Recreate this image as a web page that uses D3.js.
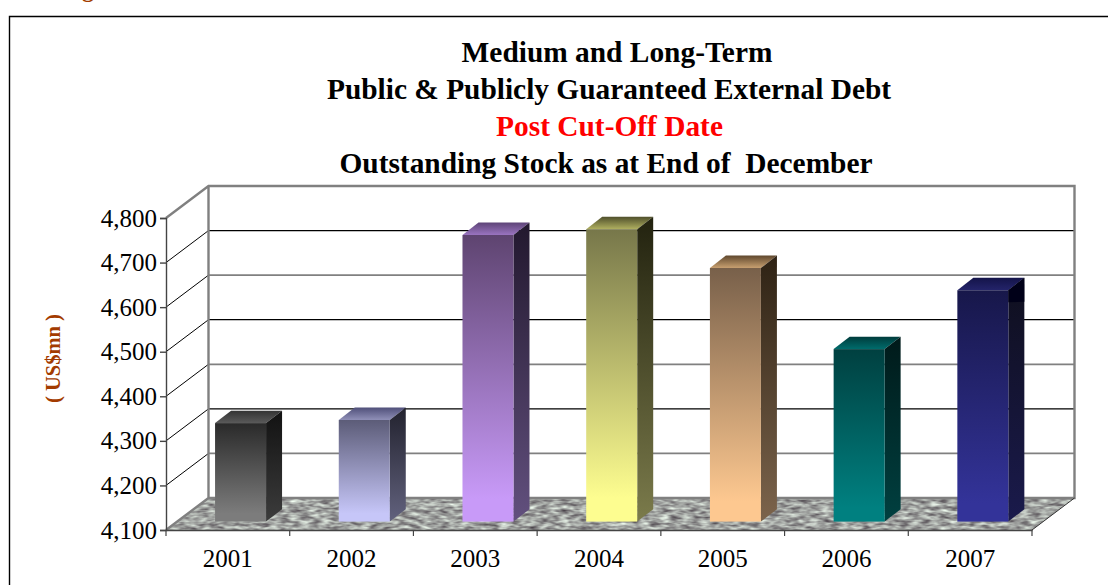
<!DOCTYPE html>
<html><head><meta charset="utf-8">
<script src="https://cdn.jsdelivr.net/npm/d3@7"></script>
<style>html,body{margin:0;padding:0;background:#fff;overflow:hidden}svg{display:block}text{font-family:"Liberation Serif",serif}</style>
</head><body><div id="c"></div>
<script>
const years = ["2001","2002","2003","2004","2005","2006","2007"];
const debt = [4321,4328,4743,4756,4669,4487,4619];
const yTicks = [4100,4200,4300,4400,4500,4600,4700,4800];
const frontTop = ["#2a2a2a","#5c5c78","#5e4470","#77774a","#78604a","#004040","#17174a"];
const frontBottom = ["#7c7c7c","#c6c6f8","#c89af8","#fdfd90","#fdc890","#008080","#333399"];
const sideTop = ["#121212","#22222e","#22182e","#22220f","#2e2214","#001a1a","#0f0f1e"];
const sideBottom = ["#3c3c3c","#62627e","#62507e","#7b7b4b","#7c644c","#004040","#1a1a4c"];
const capBack = ["#333333","#50507a","#5e4478","#50502c","#60482e","#003c3c","#14144a"];
const capFront = ["#5a5a5a","#9090b8","#9a74c0","#b0b060","#c8a070","#006c6c","#24246a"];
const titleLines = [["Medium and Long-Term","#000"],["Public & Publicly Guaranteed External Debt","#000"],["Post Cut-Off Date","#ff0000"],["Outstanding Stock as at End of  December","#000"]];
const W=1108,H=585;
const svg=d3.select("#c").append("svg").attr("width",W).attr("height",H);
const defs=svg.append("defs");
const x=d3.scaleBand().domain(years).range([166,1032]);
const y=d3.scaleLinear().domain([4100,4800]).range([530,218]);
const dx=42.5,dy=-32;           // depth of the 3-D box
const off={x:12.7,y:-8.4};      // bars stand this far into the floor
const barW=51,bdx=16,bdy=-12.4; // bar width and depth
const titleCentre=[617,609,609.5,606];

function grad(id,a,b,stop){const g=defs.append("linearGradient").attr("id",id).attr("x1",0).attr("y1",0).attr("x2",0).attr("y2",1);
 g.append("stop").attr("offset",0).attr("stop-color",a);g.append("stop").attr("offset",stop).attr("stop-color",b);}
const f=defs.append("filter").attr("id","stone").attr("x",0).attr("y",0).attr("width",1).attr("height",1).attr("color-interpolation-filters","sRGB");
f.append("feTurbulence").attr("type","fractalNoise").attr("baseFrequency","0.1 0.3").attr("numOctaves",2).attr("seed",7).attr("result","n");
f.append("feColorMatrix").attr("in","n").attr("type","matrix").attr("values","0.85 0 0 0 0.2  0.95 0 0 0 0.16  0.85 0 0 0 0.2  0 0 0 0 1").attr("result","c");
f.append("feComposite").attr("in","c").attr("in2","SourceGraphic").attr("operator","in");

// cut-off heading above the frame
svg.append("text").attr("x",82).attr("y",-3).attr("font-size",24).attr("font-weight","bold").attr("fill","#a33b00").text("g");
// frame (open on the right and bottom)
svg.append("path").attr("d",`M9.5,${H}V16.5H${W}`).attr("fill","none").attr("stroke","#000").attr("stroke-width",1.4);

// title
svg.append("g").selectAll("text").data(titleLines).join("text").attr("x",(d,i)=>titleCentre[i]).attr("y",(d,i)=>61.5+i*37.3)
 .attr("text-anchor","middle").attr("font-size",29.4).attr("font-weight","bold").attr("fill",d=>d[1]).style("white-space","pre").text(d=>d[0]);
// y title
svg.append("text").attr("transform","translate(60,358.5) rotate(-90)").attr("text-anchor","middle").attr("font-size",20.5).attr("font-weight","bold").attr("fill","#a33b00").text("( US$mn )");

// floor
const [x0,x1]=x.range();
svg.append("polygon").attr("points",[[x0,y(4100)],[x0+dx,y(4100)+dy],[x1+dx,y(4100)+dy],[x1,y(4100)]].join(" ")).attr("fill","#888").attr("filter","url(#stone)");

// walls and grid lines
const inner=yTicks.slice(1,-1);
svg.append("g").selectAll("line").data(inner).join("line").attr("x1",x0).attr("y1",d=>y(d)).attr("x2",x0+dx).attr("y2",d=>y(d)+dy).attr("stroke","#000").attr("stroke-width",1);
svg.append("g").selectAll("line").data(inner).join("line").attr("x1",x0+dx).attr("x2",x1+dx).attr("y1",d=>y(d)+dy).attr("y2",d=>y(d)+dy)
 .attr("stroke",d=>(d/100)%2===1?"#000":"#808080").attr("stroke-width",d=>(d/100)%2===1?1.2:1.8);
svg.append("path").attr("d",`M${x0},${y(4800)}L${x0+dx},${y(4800)+dy}H${x1+dx}V${y(4100)+dy}H${x0+dx}V${y(4800)+dy}M${x0},${y(4100)}L${x0+dx},${y(4100)+dy}`)
 .attr("fill","none").attr("stroke","#808080").attr("stroke-width",2.4);
svg.append("line").attr("x1",x1).attr("y1",y(4100)).attr("x2",x1+dx).attr("y2",y(4100)+dy).attr("stroke","#333").attr("stroke-width",1);

// bars
const bars=svg.append("g").selectAll("g").data(years).join("g");
bars.each(function(yr,i){
 grad("f"+i,frontTop[i],frontBottom[i],0.92);grad("s"+i,sideTop[i],sideBottom[i],1);grad("t"+i,capBack[i],capFront[i],1);
 const g=d3.select(this);
 const L=x(yr)+x.bandwidth()/2+off.x-barW/2,R=L+barW,T=y(debt[i])+off.y,B=y(4100)+off.y;
 g.append("polygon").attr("points",[[L,T],[L+bdx,T+bdy],[R+bdx,T+bdy],[R,T]].join(" ")).attr("fill",`url(#t${i})`);
 g.append("polygon").attr("points",[[R,T],[R+bdx,T+bdy],[R+bdx,B+bdy],[R,B]].join(" ")).attr("fill",`url(#s${i})`);
 g.append("rect").attr("x",L).attr("y",T).attr("width",barW).attr("height",B-T).attr("fill",`url(#f${i})`);
 if(yr==="2007") g.append("polygon").attr("points",[[R,T],[R+bdx,T+bdy],[R+bdx,T+bdy+24],[R,T+12]].join(" ")).attr("fill","#000018");
});

// axes
const ya=svg.append("g").attr("transform",`translate(${x0},0)`).call(d3.axisLeft(y).tickValues(yTicks).tickFormat(d3.format(",")).tickSize(6).tickPadding(3));
ya.selectAll("path,line").attr("stroke","#444").attr("stroke-width",1.4);
ya.selectAll("text").attr("font-size",25).attr("fill","#000").style("font-family",'"Liberation Serif",serif');
const xa=svg.append("g").attr("transform",`translate(0,${y(4100)})`).call(d3.axisBottom(x).tickSize(0).tickPadding(19));
xa.select("path").attr("stroke","#444").attr("stroke-width",1.4);
xa.selectAll("text").attr("font-size",25).attr("fill","#000").style("font-family",'"Liberation Serif",serif');
svg.append("g").selectAll("line").data(years.map(d=>x(d)).concat(x1)).join("line").attr("x1",d=>d).attr("x2",d=>d).attr("y1",y(4100)).attr("y2",y(4100)+6).attr("stroke","#444").attr("stroke-width",1.2);
</script></body></html>
